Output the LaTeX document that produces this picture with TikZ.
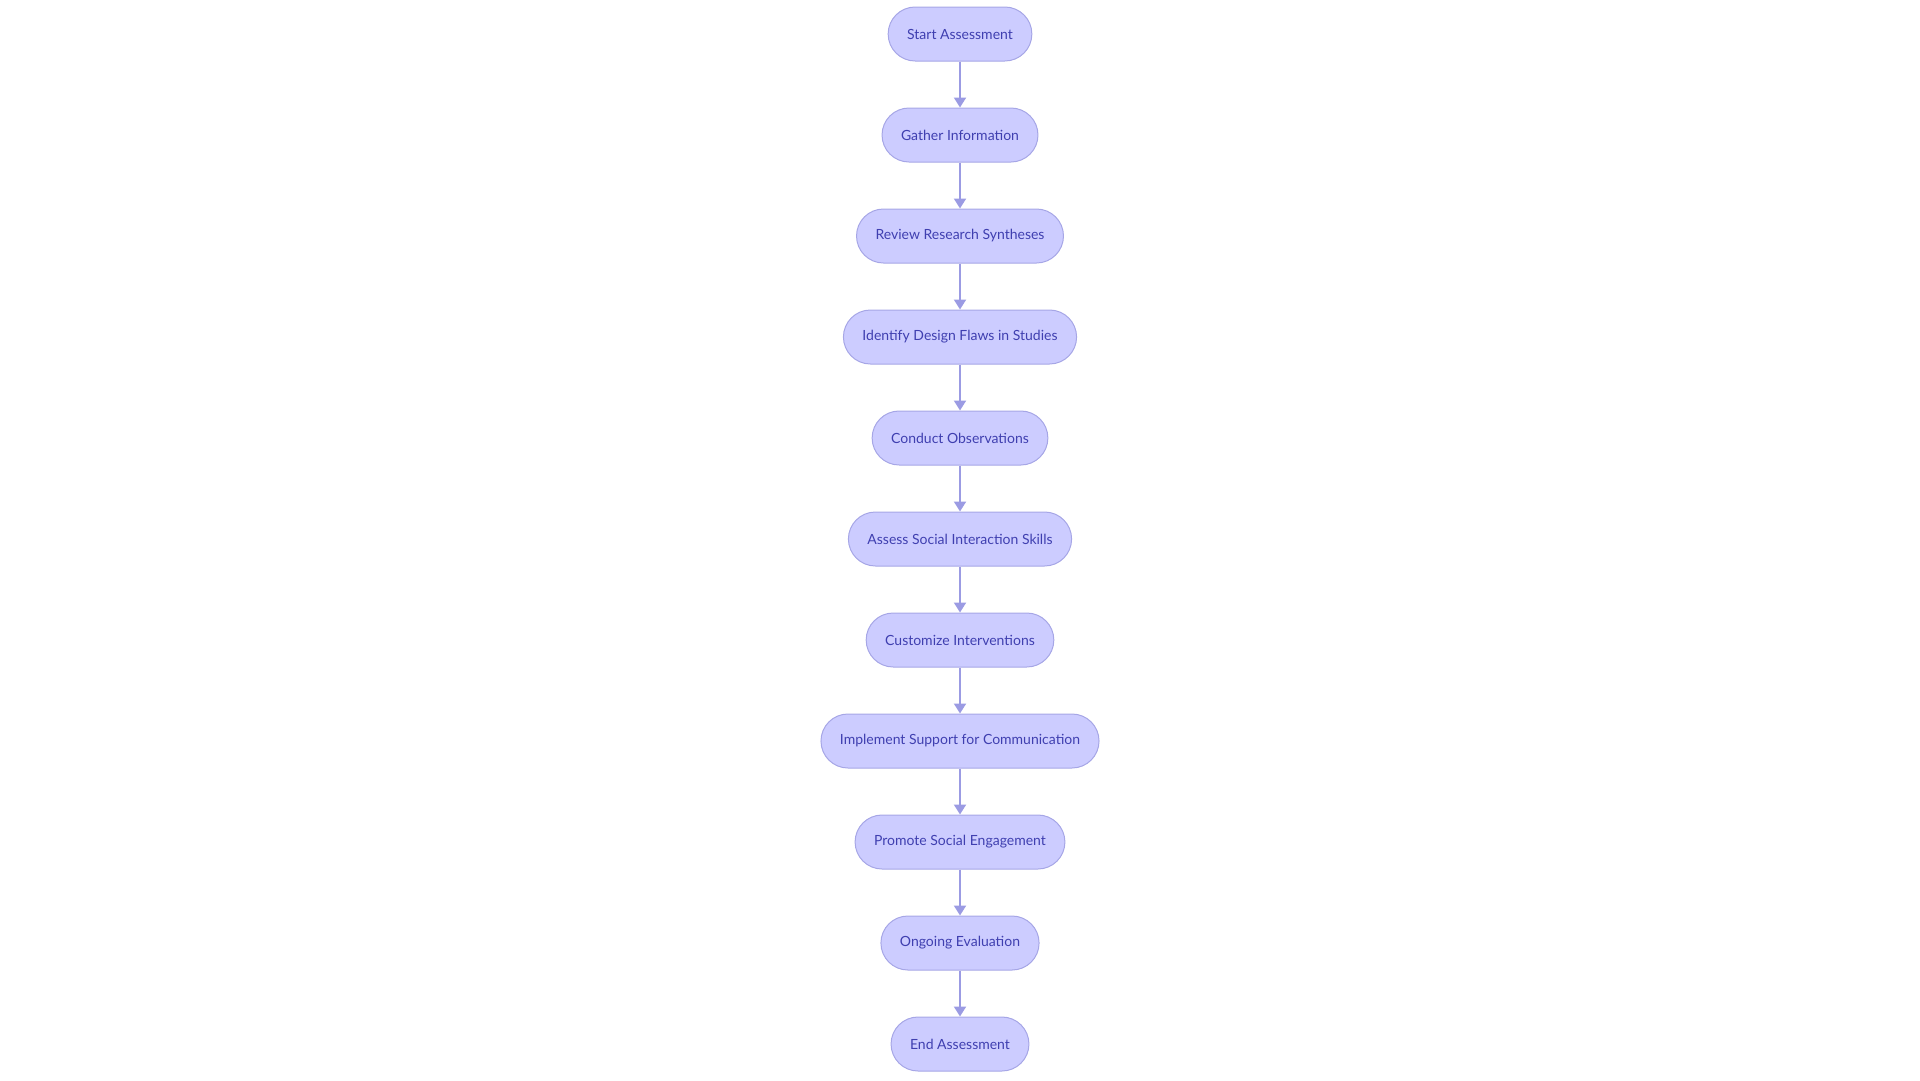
\documentclass[tikz,border=0pt]{standalone}
\usepackage{fontspec}
\setmainfont{Lato}
\usepackage{xcolor}
\usepackage{tikz}
\usetikzlibrary{arrows.meta}
\usetikzlibrary{positioning}

\definecolor{stepfill}{HTML}{CCCCFF}
\definecolor{stepline}{HTML}{A6A6E6}
\definecolor{steptext}{HTML}{3F3FB0}
\definecolor{linkline}{HTML}{9B9BE3}

\tikzset{
    stepbox/.style = {draw = stepline, fill = stepfill, text = steptext, line width = 1pt,
                      rounded corners = 27pt, minimum height = 54pt, inner xsep = 19pt,
                      font = \fontsize{14pt}{16pt}\selectfont},
    link/.style = {draw = linkline, line width = 2pt, -{Triangle[width = 12pt, length = 10pt]}}
}

\begin{document}
\begin{tikzpicture}[x = 1pt, y = 1pt, node distance = 46pt]
                    \useasboundingbox (0, 0) rectangle (1920, -1080);

                    \node[stepbox] (start) at (960, -34) {Start Assessment};
                    \node[stepbox, below = of start] (gather) {Gather Information};
                    \node[stepbox, below = of gather] (review) {Review Research Syntheses};
                    \node[stepbox, below = of review] (flaws) {Identify Design Flaws in Studies};
                    \node[stepbox, below = of flaws] (observe) {Conduct Observations};
                    \node[stepbox, below = of observe] (assess) {Assess Social Interaction Skills};
                    \node[stepbox, below = of assess] (custom) {Customize Interventions};
                    \node[stepbox, below = of custom] (support) {Implement Support for Communication};
                    \node[stepbox, below = of support] (promote) {Promote Social Engagement};
                    \node[stepbox, below = of promote] (ongoing) {Ongoing Evaluation};
                    \node[stepbox, below = of ongoing] (finish) {End Assessment};

                    \draw[link] (start) -- (gather);
                    \draw[link] (gather) -- (review);
                    \draw[link] (review) -- (flaws);
                    \draw[link] (flaws) -- (observe);
                    \draw[link] (observe) -- (assess);
                    \draw[link] (assess) -- (custom);
                    \draw[link] (custom) -- (support);
                    \draw[link] (support) -- (promote);
                    \draw[link] (promote) -- (ongoing);
                    \draw[link] (ongoing) -- (finish);
                \end{tikzpicture}
\end{document}
